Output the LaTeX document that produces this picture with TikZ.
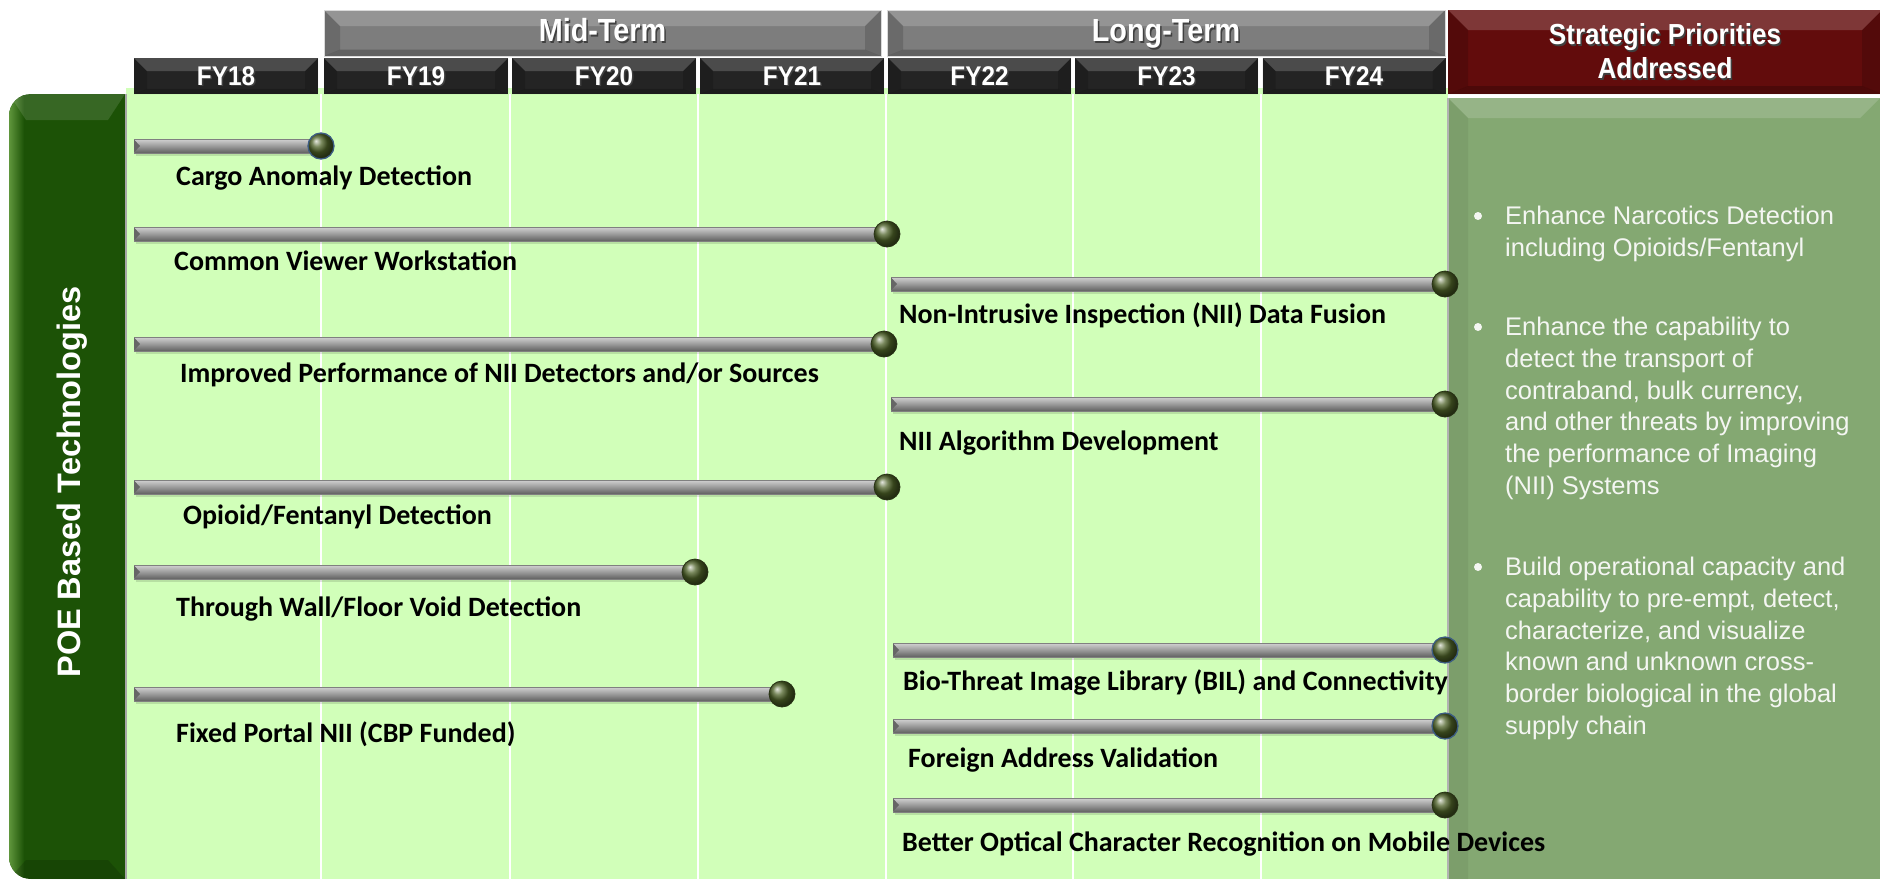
\documentclass[tikz,border=0pt]{standalone}
\usepackage{fontspec}
\setmainfont{Liberation Sans}
\newfontfamily\calfont{Carlito}
\usetikzlibrary{calc}
\definecolor{panelg}{RGB}{209,255,185}
\definecolor{leftg}{RGB}{28,82,6}
\definecolor{leftlight}{RGB}{95,150,60}
\definecolor{rightg}{RGB}{132,168,114}
\definecolor{midgray}{RGB}{125,125,125}
\definecolor{fydark}{RGB}{36,36,36}
\definecolor{stratred}{RGB}{98,12,12}
\definecolor{ballc}{RGB}{78,98,40}
\definecolor{rimblue}{RGB}{60,92,130}
\definecolor{ptext}{RGB}{244,246,242}
\tikzset{
  bevel/.style={path picture={
    \fill[white,opacity=.18] (path picture bounding box.north west) -- (path picture bounding box.north east)
      -- ([xshift=-#1pt,yshift=-#1pt]path picture bounding box.north east)
      -- ([xshift=#1pt,yshift=-#1pt]path picture bounding box.north west) -- cycle;
    \fill[black,opacity=.15] (path picture bounding box.north west) -- ([xshift=#1pt,yshift=-#1pt]path picture bounding box.north west)
      -- ([xshift=#1pt,yshift=#1pt*0.4]path picture bounding box.south west) -- (path picture bounding box.south west) -- cycle;
    \fill[black,opacity=.15] (path picture bounding box.north east) -- ([xshift=-#1pt,yshift=-#1pt]path picture bounding box.north east)
      -- ([xshift=-#1pt,yshift=#1pt*0.4]path picture bounding box.south east) -- (path picture bounding box.south east) -- cycle;
    \fill[black,opacity=.22] (path picture bounding box.south west) -- (path picture bounding box.south east)
      -- ([xshift=-#1pt,yshift=#1pt*0.4]path picture bounding box.south east)
      -- ([xshift=#1pt,yshift=#1pt*0.4]path picture bounding box.south west) -- cycle;
  }},
  termbox/.style={fill=midgray, inner sep=0pt, minimum width=557pt, minimum height=46pt, bevel=16,
    text=white, font=\bfseries\fontsize{32}{34}\selectfont, text height=23pt, text depth=6pt, draw=white!70!gray, line width=.6pt},
  fybox/.style={fill=fydark, inner sep=0pt, minimum width=184pt, minimum height=36pt, bevel=13,
    text=white, font=\bfseries\fontsize{27}{29}\selectfont, text height=19pt, text depth=1pt},
  stratbox/.style={fill=stratred, inner sep=0pt, minimum width=434pt, minimum height=84pt, bevel=20,
    text=white, align=center, font=\bfseries\fontsize{29}{34}\selectfont},
  ballnode/.style={circle, minimum size=26pt, inner sep=0pt, ball color=ballc, draw=ballc!50!black, line width=.8pt},
  bluerim/.style={draw=rimblue, line width=1.3pt},
  lbl/.style={anchor=west, inner sep=0pt, font=\calfont\bfseries\fontsize{28}{30}\selectfont, text=black},
  bullettext/.style={anchor=north west, inner sep=0pt, align=left, text=ptext, font=\fontsize{25.5}{31.7}\selectfont},
  bulletdot/.style={circle, inner sep=0pt, minimum size=8pt, fill=ptext},
}
\newcommand\shtext[1]{\leavevmode\rlap{\kern1.5pt\raisebox{-1.5pt}{\textcolor{black!75}{#1}}}#1}
\newcommand\condensed[1]{\scalebox{0.9}[1]{#1}}
% name, x1, x2, y, label x, label y, label text, extra ball style
\newcommand\tlbar[8]{%
  \coordinate (#1s) at (#2,#4);
  \coordinate (#1e) at (#3,#4);
  \fill[black,opacity=.12] ($(#1s)+(2,-4)$) rectangle ($(#1e)+(0,10)$);
  \shade[top color=gray!35, middle color=gray!75, bottom color=black!62] ($(#1s)+(0,-7)$) rectangle ($(#1e)+(0,7)$);
  \draw[black!50, line width=.6pt] ($(#1s)+(0,-7)$) rectangle ($(#1e)+(0,7)$);
  \fill[black!60] ($(#1s)+(0,-6.5)$) -- ($(#1s)+(6,0)$) -- ($(#1s)+(0,6.5)$) -- cycle;
  \node[ballnode,#8] (#1b) at (#1e) {};
  \node[lbl] (#1l) at (#5,#6) {#7};
}
\begin{document}
\begin{tikzpicture}[x=1pt,y=-1pt]
\useasboundingbox (0,0) rectangle (1880,879);
\fill[white] (0,0) rectangle (1880,879);

% main light panel
\fill[panelg] (126,88) rectangle (1448,879);
\foreach \gx in {321,510,698,886,1073,1261}
  \draw[white, line width=2.5pt] (\gx,94) -- (\gx,879);

% left bar
\begin{scope}
  \clip[rounded corners=22pt] (9,94) rectangle (160,879);
  \fill[leftg] (9,94) rectangle (125,879);
  \shade[left color=leftlight, right color=leftg] (9,94) rectangle (24,879);
  \fill[white,opacity=.12] (9,94) -- (125,94) -- (108,120) -- (26,120) -- cycle;
  \fill[black,opacity=.15] (9,879) -- (125,879) -- (108,860) -- (26,860) -- cycle;
\end{scope}
\draw[gray!70, line width=2.5pt] (126,94) -- (126,879);
\node[rotate=90, text=white, font=\bfseries\fontsize{32.5}{34}\selectfont] (poe) at (72,482) {POE Based Technologies};

% right panel
\fill[rightg] (1448,98) rectangle (1880,879);
\fill[white,opacity=.15] (1448,98) -- (1880,98) -- (1860,118) -- (1468,118) -- cycle;
\fill[black,opacity=.06] (1448,98) -- (1468,118) -- (1468,879) -- (1448,879) -- cycle;
\draw[gray!60, line width=1.5pt] (1448,98) -- (1448,879);

% headers
\node[termbox] (mid) at (602.5,33) {\shtext{\condensed{Mid-Term}}};
\node[termbox, minimum width=558pt] (long) at (1166,33) {\shtext{\condensed{Long-Term}}};
\node[stratbox] (strat) at (1665,52) {\shtext{\condensed{Strategic Priorities}}\\\shtext{\condensed{Addressed}}};
\node[fybox] (fy18) at (226,76) {\shtext{\condensed{FY18}}};
\node[fybox] (fy19) at (416,76) {\shtext{\condensed{FY19}}};
\node[fybox] (fy20) at (604,76) {\shtext{\condensed{FY20}}};
\node[fybox] (fy21) at (792,76) {\shtext{\condensed{FY21}}};
\node[fybox, minimum width=183pt] (fy22) at (979.5,76) {\shtext{\condensed{FY22}}};
\node[fybox, minimum width=183pt] (fy23) at (1166.5,76) {\shtext{\condensed{FY23}}};
\node[fybox, minimum width=183pt] (fy24) at (1354,76) {\shtext{\condensed{FY24}}};

% timeline bars
\tlbar{cargo}{134}{321}{146}{176}{178}{Cargo Anomaly Detection}{bluerim}
\tlbar{viewer}{134}{887}{234}{174}{261}{Common Viewer Workstation}{}
\tlbar{fusion}{891}{1445}{284}{899}{315}{Non-Intrusive Inspection (NII) Data Fusion}{}
\tlbar{perf}{134}{884}{344}{180}{375}{Improved Performance of NII Detectors and/or Sources}{}
\tlbar{algo}{891}{1445}{404}{899}{443}{NII Algorithm Development}{}
\tlbar{opioid}{134}{887}{487}{183}{517}{Opioid/Fentanyl Detection}{}
\tlbar{wall}{134}{695}{572}{176}{609}{Through Wall/Floor Void Detection}{}
\tlbar{bio}{893}{1445}{650}{903}{682}{Bio-Threat Image Library (BIL) and Connectivity}{bluerim}
\tlbar{portal}{134}{782}{694}{176}{734}{Fixed Portal NII (CBP Funded)}{}
\tlbar{foreign}{893}{1445}{726}{908}{760}{Foreign Address Validation}{bluerim}
\tlbar{ocr}{893}{1445}{805}{902}{844}{Better Optical Character Recognition on Mobile Devices}{}

% strategic priorities text
\node[bulletdot] (d1) at (1478,216) {};
\node[bullettext] (b1) at (1505,206) {Enhance Narcotics Detection\\including Opioids/Fentanyl};
\node[bulletdot] (d2) at (1478,327) {};
\node[bullettext] (b2) at (1505,317) {Enhance the capability to\\detect the transport of\\contraband, bulk currency,\\and other threats by improving\\the performance of Imaging\\(NII) Systems};
\node[bulletdot] (d3) at (1478,567) {};
\node[bullettext] (b3) at (1505,557) {Build operational capacity and\\capability to pre-empt, detect,\\characterize, and visualize\\known and unknown cross-\\border biological in the global\\supply chain};
\end{tikzpicture}
\end{document}
